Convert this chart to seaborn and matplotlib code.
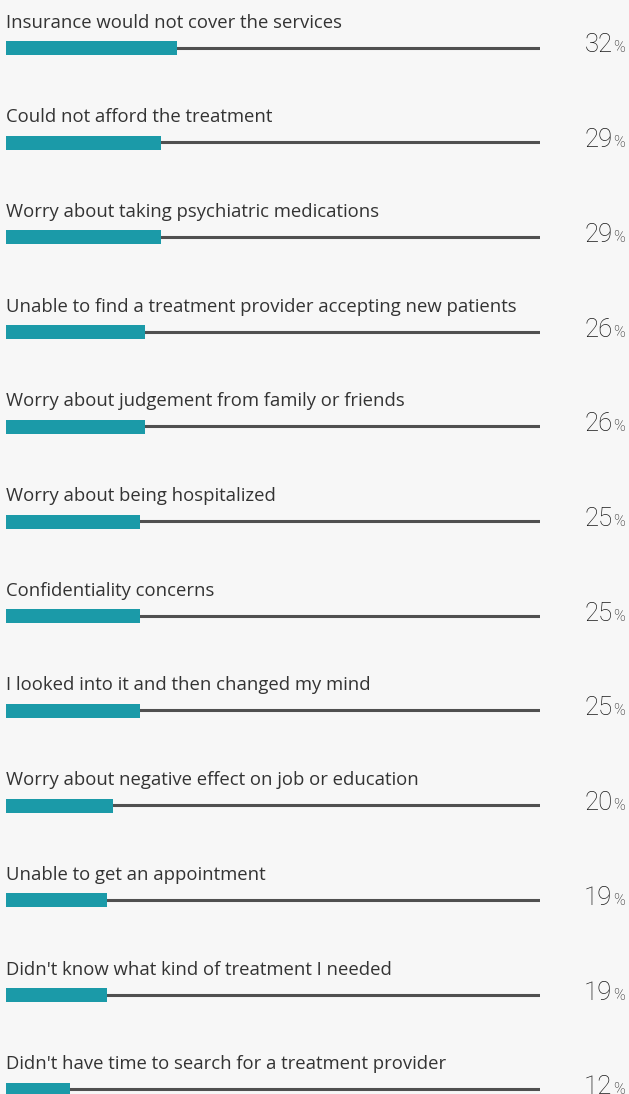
import matplotlib
matplotlib.use("Agg")
import matplotlib.pyplot as plt
import matplotlib.transforms as mtransforms
import seaborn as sns
import pandas as pd

reasons = [
    "Insurance would not cover the services",
    "Could not afford the treatment",
    "Worry about taking psychiatric medications",
    "Unable to find a treatment provider accepting new patients",
    "Worry about judgement from family or friends",
    "Worry about being hospitalized",
    "Confidentiality concerns",
    "I looked into it and then changed my mind",
    "Worry about negative effect on job or education",
    "Unable to get an appointment",
    "Didn't know what kind of treatment I needed",
    "Didn't have time to search for a treatment provider",
]
shares = [32, 29, 29, 26, 26, 25, 25, 25, 20, 19, 19, 12]

BG = "#f7f7f7"
TEAL = "#1b9aa8"
TRACK = "#505050"
TEXT = "#333333"

sns.set_theme(style="white")
plt.rcParams["font.family"] = ["Open Sans", "DejaVu Sans"]

W, H = 629, 1094
fig = plt.figure(figsize=(W / 100, H / 100), dpi=100, facecolor=BG)
x0, x1 = 6, 540
ax = fig.add_axes([x0 / W, 0, (x1 - x0) / W, 1])
ax.set_facecolor(BG)

df = pd.DataFrame({"reason": reasons, "share": shares})
df["row"] = range(len(df))

step = 94.7
top = 48

# grey track behind each bar
ax.hlines(df["row"] - 0.5 / step, 0, 100, color=TRACK, lw=2.2, zorder=1)

sns.barplot(data=df, x="share", y="row", orient="h",
            color=TEAL, width=14 / step, saturation=1, ax=ax, zorder=2,
            native_scale=True, linewidth=0, edgecolor="none")
ax.set_ylim((H - top) / step, -top / step)
ax.set_xlim(0, 100)
ax.axis("off")

num_tr = mtransforms.blended_transform_factory(fig.transFigure, ax.transData)

for i, (lab, v) in enumerate(zip(reasons, shares)):
    ax.text(0, i - 20.5 / step, lab, ha="left", va="baseline",
            fontsize=13.3, color=TEXT)
    ax.text(612.5 / W, i + 4.5 / step, f"{v}", transform=num_tr,
            ha="right", va="baseline", family=["Roboto", "DejaVu Sans"],
            fontsize=18.5, fontweight="light", color="#1a1a1a")
    ax.text(613 / W, i + 4.5 / step, "%", transform=num_tr,
            ha="left", va="baseline", family=["Roboto", "DejaVu Sans"],
            fontsize=11.5, fontweight="light", color="#1a1a1a")

fig.savefig("out.png", dpi=100, facecolor=BG)
